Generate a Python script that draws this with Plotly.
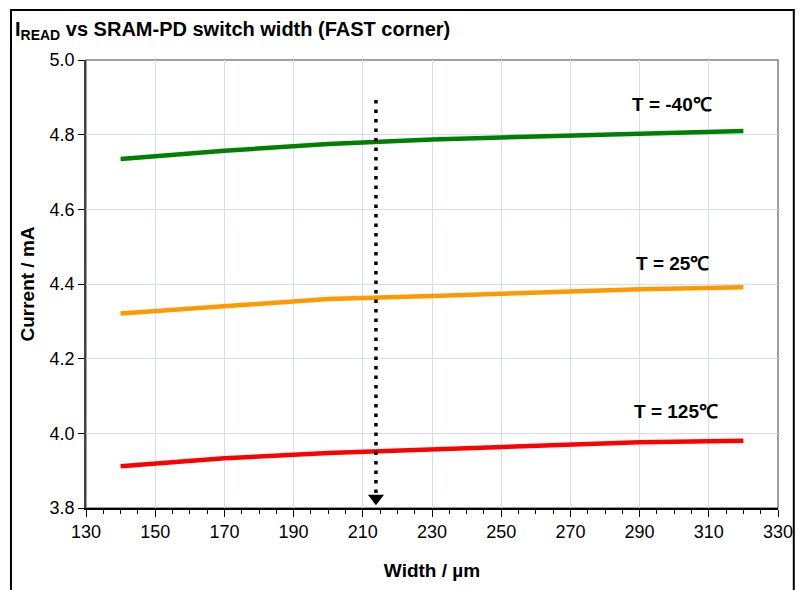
import plotly.graph_objects as go

width_um = [140, 170, 200, 230, 260, 290, 320]
i_m40 = [4.735, 4.757, 4.775, 4.787, 4.795, 4.803, 4.810]
i_25 = [4.321, 4.342, 4.360, 4.368, 4.377, 4.386, 4.391]
i_125 = [3.912, 3.933, 3.947, 3.957, 3.965, 3.976, 3.980]

series_names = ["T = -40℃", "T = 25℃", "T = 125℃"]
series_colors = ["#008000", "#FF9900", "#FF0000"]
label_pos_x = [299.5, 299.5, 300.5]
label_pos_y = [4.882, 4.455, 4.058]

arrow_x = 213.8
arrow_y_top = 4.893
arrow_y_bottom = 3.835
arrow_tip_y = 3.826

FONT = "Liberation Sans, Arial, sans-serif"

fig = go.Figure()
for name, ys, col in zip(series_names, [i_m40, i_25, i_125], series_colors):
    fig.add_trace(go.Scatter(x=width_um, y=ys, mode="lines", name=name,
                             line=dict(color=col, width=4.5), showlegend=False))

fig.add_trace(go.Scatter(x=[arrow_x, arrow_x], y=[arrow_y_top, arrow_y_bottom], mode="lines",
                         line=dict(color="black", width=3.5, dash="3.5px,6px"), showlegend=False))
fig.add_trace(go.Scatter(x=[arrow_x], y=[arrow_tip_y], mode="markers",
                         marker=dict(symbol="triangle-down", size=14, color="black"),
                         showlegend=False))

for name, lx, ly in zip(series_names, label_pos_x, label_pos_y):
    fig.add_annotation(x=lx, y=ly, text="<b>" + name + "</b>", showarrow=False,
                       font=dict(family=FONT, size=19, color="black"))

# title
fig.add_annotation(xref="paper", yref="paper", x=(12 - 86) / 701, y=(509 - 30) / 449,
                   xanchor="left", yanchor="middle", showarrow=False,
                   text="<b>I<sub>READ</sub> vs SRAM-PD switch width (FAST corner)</b>",
                   font=dict(family=FONT, size=20, color="black"))

# plot area border (gray top/right)
fig.add_shape(type="rect", xref="paper", yref="paper", x0=0, x1=1, y0=0, y1=1,
              line=dict(color="#808080", width=1.5), layer="below")
# outer frame
fig.add_shape(type="rect", xref="paper", yref="paper",
              x0=(10 - 86) / 701, x1=(803 - 86) / 701,
              y0=(509 - 620) / 449, y1=(509 - 10) / 449,
              line=dict(color="black", width=2))

fig.update_layout(
    width=805, height=590,
    margin=dict(l=86, r=18, t=60, b=81),
    paper_bgcolor="white", plot_bgcolor="white",
    font=dict(family=FONT, size=18, color="black"),
)
fig.update_xaxes(range=[130, 330], dtick=20, tick0=130, showgrid=True, gridcolor="#D8D8F8",
                 gridwidth=1, showline=True, linecolor="black", linewidth=1.5,
                 ticks="outside", ticklen=7, tickcolor="black",
                 minor=dict(dtick=5, tick0=130, ticks="outside", ticklen=4, tickcolor="black", showgrid=False),
                 tickfont=dict(size=18),
                 title=dict(text="<b>Width / µm</b>", font=dict(size=19), standoff=22),
                 zeroline=False)
fig.update_yaxes(range=[3.8, 5.0], dtick=0.2, tickformat=".1f", showgrid=True, gridcolor="#D8D8F8",
                 gridwidth=1, showline=True, linecolor="#404040", linewidth=1.5,
                 ticks="outside", ticklen=6, tickcolor="black",
                 tickfont=dict(size=18),
                 title=dict(text="<b>Current / mA</b>", font=dict(size=19), standoff=10),
                 zeroline=False)

fig.write_html("out.html")
